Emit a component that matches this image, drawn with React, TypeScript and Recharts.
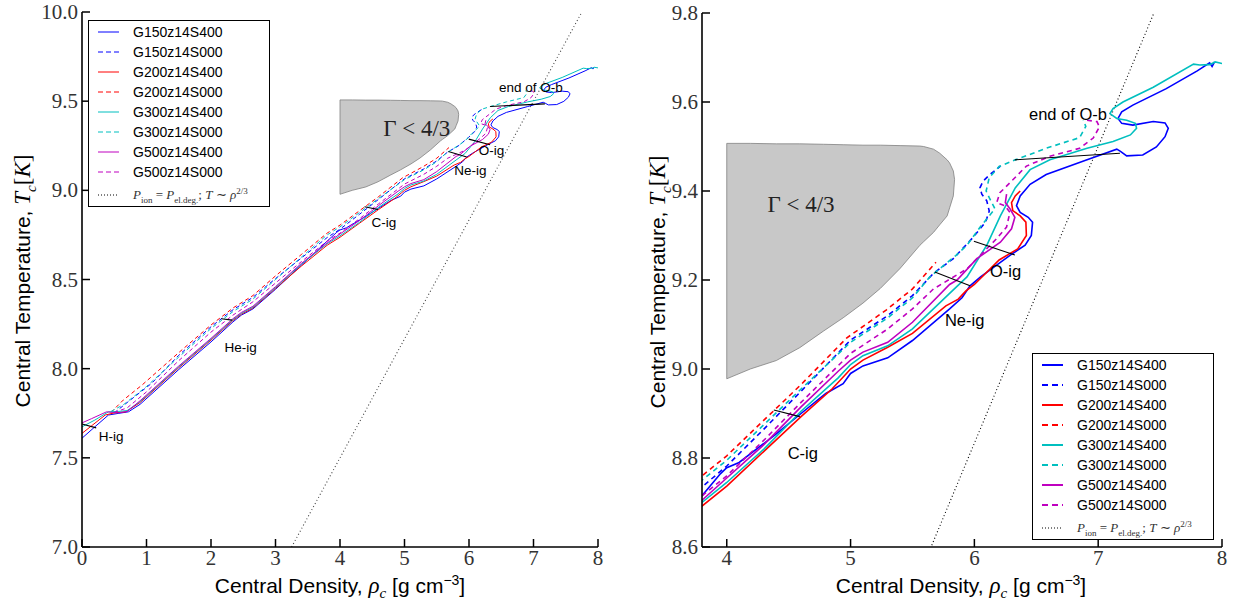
import React from "react";
import { ComposedChart, Line, Area, XAxis, YAxis, ReferenceDot } from "recharts";

// evolutionary tracks [log rho_c, log T_c]
const G150_S400: [number, number][] = [[0,7.61],[0.2,7.674],[0.41,7.74],[0.56,7.749],[0.72,7.758],[0.9,7.8],[1.5,7.995],[2.0,8.15],[2.34,8.262],[2.47,8.3],[2.65,8.335],[3.0,8.445],[3.4,8.58],[3.8,8.715],[3.95,8.765],[4.0,8.778],[4.1,8.79],[4.39,8.852],[4.6,8.9],[4.8,8.945],[4.94,8.967],[5.0,8.99],[5.1,9.007],[5.3,9.025],[5.5,9.064],[5.8,9.135],[5.9,9.16],[5.965,9.187],[6.05,9.207],[6.29,9.256],[6.41,9.278],[6.46,9.3],[6.47,9.33],[6.435,9.341],[6.37,9.352],[6.34,9.367],[6.37,9.389],[6.45,9.415],[6.58,9.437],[6.91,9.47],[7.15,9.494],[7.18,9.489],[7.23,9.479],[7.36,9.481],[7.47,9.499],[7.54,9.522],[7.566,9.541],[7.54,9.553],[7.445,9.556],[7.28,9.548],[7.19,9.552],[7.16,9.563],[7.19,9.578],[7.28,9.593],[7.55,9.63],[7.8,9.67],[7.9,9.688],[7.92,9.68],[7.94,9.69]];
const G150_S000: [number, number][] = [[0.5,7.752],[0.7,7.81],[1.08,7.918],[1.5,8.075],[2.0,8.235],[2.34,8.33],[2.65,8.4],[3.0,8.505],[3.4,8.62],[3.8,8.735],[4.0,8.782],[4.3,8.865],[4.6,8.95],[5.0,9.065],[5.3,9.12],[5.5,9.165],[5.67,9.215],[5.83,9.248],[5.99,9.296],[6.09,9.33],[6.12,9.355],[6.1,9.378],[6.06,9.393],[6.045,9.407],[6.07,9.422],[6.125,9.437],[6.21,9.456]];
const G200_S400: [number, number][] = [[0,7.637],[0.15,7.68],[0.36,7.74],[0.5,7.752],[0.68,7.758],[0.9,7.81],[1.5,8.005],[2.0,8.16],[2.34,8.27],[2.47,8.305],[2.65,8.34],[3.0,8.45],[3.4,8.575],[3.8,8.692],[4.0,8.737],[4.3,8.815],[4.6,8.893],[4.85,8.955],[4.95,8.985],[5.0,9.0],[5.1,9.02],[5.3,9.049],[5.5,9.08],[5.77,9.142],[5.87,9.157],[5.93,9.175],[6.0,9.19],[6.2,9.245],[6.35,9.27],[6.42,9.3],[6.416,9.33],[6.37,9.344],[6.31,9.356],[6.3,9.374],[6.33,9.389],[6.37,9.4]];
const G200_S000: [number, number][] = [[0.45,7.755],[0.64,7.824],[0.93,7.908],[1.5,8.09],[2.0,8.245],[2.34,8.34],[2.65,8.41],[3.0,8.52],[3.4,8.64],[3.8,8.76],[4.0,8.805],[4.3,8.885],[4.6,8.965],[4.97,9.07],[5.29,9.133],[5.5,9.18],[5.69,9.24]];
const G300_S400: [number, number][] = [[0,7.674],[0.2,7.712],[0.41,7.758],[0.56,7.76],[0.7,7.765],[0.9,7.815],[1.5,8.01],[2.0,8.165],[2.34,8.275],[2.47,8.31],[2.65,8.345],[3.0,8.455],[3.4,8.585],[3.8,8.7],[4.0,8.745],[4.3,8.82],[4.6,8.905],[4.9,8.98],[5.0,9.01],[5.1,9.03],[5.3,9.052],[5.5,9.09],[5.8,9.17],[5.94,9.207],[6.1,9.278],[6.21,9.344],[6.33,9.407],[6.45,9.448],[6.61,9.47],[6.91,9.496],[7.12,9.511],[7.26,9.526],[7.31,9.541],[7.3,9.552],[7.23,9.559],[7.15,9.563],[7.095,9.574],[7.12,9.585],[7.2,9.6],[7.445,9.633],[7.77,9.685],[7.82,9.683],[7.9,9.684],[7.945,9.69],[8.01,9.686]];
const G300_S000: [number, number][] = [[0.45,7.76],[0.65,7.8],[1.0,7.9],[1.5,8.065],[2.0,8.225],[2.34,8.32],[2.65,8.39],[3.0,8.5],[3.4,8.625],[3.8,8.75],[4.0,8.795],[4.3,8.875],[4.6,8.955],[5.0,9.06],[5.3,9.115],[5.5,9.16],[5.64,9.207],[5.85,9.255],[5.94,9.278],[6.05,9.32],[6.166,9.36],[6.12,9.385],[6.095,9.4],[6.12,9.43],[6.2,9.455],[6.33,9.47],[6.58,9.496],[6.85,9.52],[6.9,9.545],[6.88,9.56]];
const G500_S400: [number, number][] = [[0,7.696],[0.15,7.72],[0.38,7.758],[0.56,7.752],[0.7,7.76],[0.9,7.82],[1.5,8.015],[2.0,8.17],[2.34,8.28],[2.47,8.315],[2.65,8.35],[3.0,8.46],[3.4,8.59],[3.8,8.705],[4.0,8.755],[4.3,8.83],[4.6,8.915],[4.9,8.995],[5.0,9.02],[5.1,9.038],[5.3,9.06],[5.5,9.105],[5.8,9.19],[5.86,9.2],[6.02,9.248],[6.21,9.285],[6.3,9.315],[6.327,9.341],[6.29,9.359],[6.25,9.374],[6.26,9.393]];
const G500_S000: [number, number][] = [[0.5,7.755],[0.7,7.78],[1.0,7.87],[1.5,8.045],[2.0,8.205],[2.34,8.3],[2.65,8.375],[3.0,8.48],[3.4,8.6],[3.8,8.715],[4.0,8.76],[4.3,8.84],[4.6,8.925],[5.0,9.035],[5.3,9.09],[5.5,9.135],[5.67,9.18],[5.94,9.225],[6.18,9.293],[6.26,9.319],[6.287,9.352],[6.246,9.367],[6.18,9.374],[6.206,9.396],[6.26,9.411],[6.42,9.456],[6.61,9.478],[6.85,9.496],[6.96,9.519],[7.01,9.544],[6.99,9.556],[6.91,9.559]];

// Gamma < 4/3 region
const GAMMA_X = [4.0, 4.19, 4.4, 4.59, 4.78, 4.94, 5.1, 5.24, 5.4, 5.56, 5.59, 5.67, 5.72, 5.78, 5.8, 5.83, 5.84];
const GAMMA_TOP = [9.507, 9.507, 9.506, 9.506, 9.505, 9.504, 9.503, 9.503, 9.502, 9.501, 9.5, 9.494, 9.485, 9.47, 9.463, 9.445, 9.426];
const GAMMA_BOT = [8.978, 9.0, 9.019, 9.048, 9.085, 9.115, 9.148, 9.181, 9.226, 9.278, 9.286, 9.307, 9.324, 9.344, 9.362, 9.389, 9.426];

// P_ion = P_el.deg line
const DEG_X = [3.25, 7.75];
const DEG_Y = [7.0, 10.0];

// ignition markers
const IGN_NAMES = ["H-ig", "He-ig", "C-ig", "Ne-ig", "O-ig", "end of O-b"];
const IGN_X = [[0.0, 0.22], [2.16, 2.33], [4.38, 4.59], [5.68, 5.965], [5.996, 6.327], [6.327, 7.176]];
const IGN_Y = [[7.69, 7.668], [8.28, 8.272], [8.908, 8.893], [9.218, 9.187], [9.287, 9.256], [9.47, 9.485]];
const LEFT_LBL_X = [0.45, 2.46, 4.68, 6.02, 6.35, 6.96];
const LEFT_LBL_Y = [7.62, 8.12, 8.824, 9.115, 9.224, 9.58];
const RIGHT_LBL_X = [null, null, 4.614, 5.921, 6.252, 6.756];
const RIGHT_LBL_Y = [null, null, 8.811, 9.111, 9.219, 9.572];

const LEFT_XTICKS = [0, 1, 2, 3, 4, 5, 6, 7, 8];
const LEFT_YTICKS = [7.0, 7.5, 8.0, 8.5, 9.0, 9.5, 10.0];
const RIGHT_XTICKS = [4, 5, 6, 7, 8];
const RIGHT_YTICKS = [8.6, 8.8, 9.0, 9.2, 9.4, 9.6, 9.8];

const SERIES = [
  { name: "G150z14S400", color: "#0000ff", dashed: false, pts: G150_S400 },
  { name: "G150z14S000", color: "#0000ff", dashed: true, pts: G150_S000 },
  { name: "G200z14S400", color: "#ff0000", dashed: false, pts: G200_S400 },
  { name: "G200z14S000", color: "#ff0000", dashed: true, pts: G200_S000 },
  { name: "G300z14S400", color: "#00bfbf", dashed: false, pts: G300_S400 },
  { name: "G300z14S000", color: "#00bfbf", dashed: true, pts: G300_S000 },
  { name: "G500z14S400", color: "#bf00bf", dashed: false, pts: G500_S400 },
  { name: "G500z14S000", color: "#bf00bf", dashed: true, pts: G500_S000 },
];

const SANS = "'Liberation Sans', Arial, sans-serif";
const SERIF = "'Liberation Serif', 'Times New Roman', serif";

const toPts = (p: [number, number][]) => p.map(([x, y]) => ({ x, y }));
const gammaData = GAMMA_X.map((x, i) => ({ x, lo: GAMMA_BOT[i], hi: GAMMA_TOP[i] }));
const gammaEdge = [{ x: GAMMA_X[0], y: GAMMA_BOT[0] }, { x: GAMMA_X[0], y: GAMMA_TOP[0] }];
const degData = DEG_X.map((x, i) => ({ x, y: DEG_Y[i] }));

function makeTick(side: string, len: number, fmt?: (v: number) => string) {
  return (props: any) => {
    const { x, y, payload } = props;
    const v = payload.value;
    let l: any;
    let t: any = null;
    if (side === "bottom") {
      l = <line x1={x} y1={y} x2={x} y2={y - len} />;
      if (fmt) t = <text x={x} y={y + 18} textAnchor="middle">{fmt(v)}</text>;
    } else if (side === "top") {
      l = <line x1={x} y1={y} x2={x} y2={y + len} />;
    } else if (side === "left") {
      l = <line x1={x} y1={y} x2={x + len} y2={y} />;
      if (fmt) t = <text x={x - 4} y={y + 7} textAnchor="end">{fmt(v)}</text>;
    } else {
      l = <line x1={x} y1={y} x2={x - len} y2={y} />;
    }
    return (
      <g>
        <g stroke="#000" strokeWidth={1.5}>{l}</g>
        {t && <g fill="#333" fontFamily={SERIF} fontSize={21}>{t}</g>}
      </g>
    );
  };
}

function Panel(p: {
  width: number; margin: any; xd: [number, number]; yd: [number, number];
  xt: number[]; yt: number[]; xf: (v: number) => string; yf: (v: number) => string;
  lw: number; dash: string; lblX: (number | null)[]; lblY: (number | null)[]; lblSize: number;
  degColor: string; gx: number; gy: number;
}) {
  const axisLine = { stroke: "#000", strokeWidth: 1.6 };
  const common = { allowDataOverflow: true, type: "number" as const, tickLine: false, tickSize: 0, tickMargin: 0, interval: 0 as const };
  return (
    <ComposedChart width={p.width} height={603} margin={p.margin}>
      <XAxis dataKey="x" domain={p.xd} ticks={p.xt} height={56} axisLine={axisLine} tick={makeTick("bottom", 8, p.xf)} {...common} />
      <XAxis xAxisId="top" orientation="top" dataKey="x" domain={p.xd} ticks={p.xt} height={0} axisLine={axisLine} tick={makeTick("top", 8)} {...common} />
      <YAxis dataKey="y" domain={p.yd} ticks={p.yt} width={82} axisLine={axisLine} tick={makeTick("left", 8, p.yf)} {...common} />
      <YAxis yAxisId="right" orientation="right" dataKey="y" domain={p.yd} ticks={p.yt} width={0} axisLine={axisLine} tick={makeTick("right", 8)} {...common} />
      <Area data={gammaData} dataKey={(d: any) => [d.lo, d.hi]} type="linear" fill="#c8c8c8" fillOpacity={1} stroke="#808080" strokeWidth={0.8} isAnimationActive={false} activeDot={false} />
      <Line data={gammaEdge} dataKey="y" type="linear" stroke="#808080" strokeWidth={0.8} dot={false} activeDot={false} isAnimationActive={false} />
      <ReferenceDot x={p.gx} y={p.gy} r={0}
        shape={(s: any) => (
          <text x={s.cx} y={s.cy + 8} textAnchor="middle" fontFamily={SERIF} fontSize={23} fill="#222">Γ &lt; 4/3</text>
        )} />
      <Line data={degData} dataKey="y" type="linear" stroke={p.degColor} strokeWidth={1.1} strokeDasharray="1 2.5" dot={false} activeDot={false} isAnimationActive={false} />
      {SERIES.map((s) => (
        <Line key={s.name} data={toPts(s.pts)} dataKey="y" type="linear" stroke={s.color} strokeWidth={p.lw}
          strokeDasharray={s.dashed ? p.dash : undefined} dot={false} activeDot={false} isAnimationActive={false} />
      ))}
      {IGN_NAMES.map((n, i) => (
        <Line key={"ig" + n} data={IGN_X[i].map((x, j) => ({ x, y: IGN_Y[i][j] }))} dataKey="y" type="linear" stroke="#000"
          strokeWidth={1.1} dot={false} activeDot={false} isAnimationActive={false} />
      ))}
      {IGN_NAMES.map((n, i) =>
        p.lblX[i] == null ? null : (
          <ReferenceDot key={"lb" + n} x={p.lblX[i] as number} y={p.lblY[i] as number} r={0}
            shape={(s: any) => (
              <text x={s.cx} y={s.cy + p.lblSize * 0.36} textAnchor="middle" fontFamily={SANS} fontSize={p.lblSize} fill="#000">{n}</text>
            )} />
        )
      )}
    </ComposedChart>
  );
}

function LegendBox({ left, top, lw, dash }: { left: number; top: number; lw: number; dash: string }) {
  return (
    <div style={{ position: "absolute", left, top, width: 182, height: 187, border: "1px solid #000", background: "#fff", boxSizing: "border-box" }}>
      {SERIES.map((s, i) => (
        <div key={s.name} style={{ position: "absolute", left: 0, top: 1 + i * 20, height: 20, width: 180, display: "flex", alignItems: "center" }}>
          <svg width={44} height={20} style={{ display: "block" }}>
            <line x1={9} x2={30} y1={10} y2={10} stroke={s.color} strokeWidth={lw} strokeDasharray={s.dashed ? dash : undefined} />
          </svg>
          <span style={{ fontFamily: SANS, fontSize: 14, color: "#000" }}>{s.name}</span>
        </div>
      ))}
      <div style={{ position: "absolute", left: 0, top: 163, height: 22, width: 180, display: "flex", alignItems: "center" }}>
        <svg width={44} height={20} style={{ display: "block" }}>
          <line x1={9} x2={30} y1={10} y2={10} stroke="#000" strokeWidth={1} strokeDasharray="1 2" />
        </svg>
        <span style={{ fontFamily: SERIF, fontSize: 13, color: "#333", whiteSpace: "nowrap" }}>
          <i>P</i><sub style={{ fontSize: 9 }}>ion</sub> = <i>P</i><sub style={{ fontSize: 9 }}>el.deg.</sub>; <i>T</i> ∼ <i>ρ</i>
          <sup style={{ fontSize: 9 }}>2/3</sup>
        </span>
      </div>
    </div>
  );
}

function YLabel({ left, top }: { left: number; top: number }) {
  return (
    <div style={{ position: "absolute", left, top, transform: "translate(-50%, -50%) rotate(-90deg)", whiteSpace: "nowrap", fontFamily: SANS, fontSize: 21, color: "#000" }}>
      Central Temperature,{" "}
      <span style={{ fontFamily: SERIF, fontSize: 23 }}>
        <i>T</i><sub style={{ fontSize: 15 }}><i>c</i></sub>[<i>K</i>]
      </span>
    </div>
  );
}

function XLabel({ left, top }: { left: number; top: number }) {
  return (
    <div style={{ position: "absolute", left, top, transform: "translate(-50%, -50%)", whiteSpace: "nowrap", fontFamily: SANS, fontSize: 21, color: "#000" }}>
      Central Density,{" "}
      <span style={{ fontFamily: SERIF, fontSize: 23 }}>
        <i>ρ</i><sub style={{ fontSize: 15 }}><i>c</i></sub>
      </span>{" "}
      [g cm<sup style={{ fontSize: 14 }}>−3</sup>]
    </div>
  );
}

export default function App() {
  return (
    <div style={{ position: "absolute", left: 0, top: 0, width: 1246, height: 603, background: "#fff", overflow: "hidden" }}>
      <div style={{ position: "absolute", left: 0, top: 0 }}>
        <Panel width={620} margin={{ top: 12, right: 22, bottom: 0, left: 0 }} xd={[0, 8]} yd={[7, 10]}
          xt={LEFT_XTICKS} yt={LEFT_YTICKS} xf={(v) => String(v)} yf={(v) => v.toFixed(1)}
          lw={1} dash="4 3" lblX={LEFT_LBL_X} lblY={LEFT_LBL_Y} lblSize={13.5} degColor="#444" gx={5.19} gy={9.35} />
      </div>
      <div style={{ position: "absolute", left: 620, top: 0 }}>
        <Panel width={626} margin={{ top: 13, right: 24, bottom: 0, left: 0 }} xd={[3.8, 8]} yd={[8.6, 9.8]}
          xt={RIGHT_XTICKS} yt={RIGHT_YTICKS} xf={(v) => String(v)} yf={(v) => v.toFixed(1)}
          lw={1.6} dash="5 4" lblX={RIGHT_LBL_X} lblY={RIGHT_LBL_Y} lblSize={16.5} degColor="#000" gx={4.6} gy={9.37} />
      </div>
      <LegendBox left={88} top={20} lw={1} dash="5 3" />
      <LegendBox left={1032} top={353} lw={2} dash="6 4" />
      <YLabel left={25} top={281} />
      <YLabel left={660} top={282} />
      <XLabel left={340} top={587} />
      <XLabel left={961} top={587} />
    </div>
  );
}
